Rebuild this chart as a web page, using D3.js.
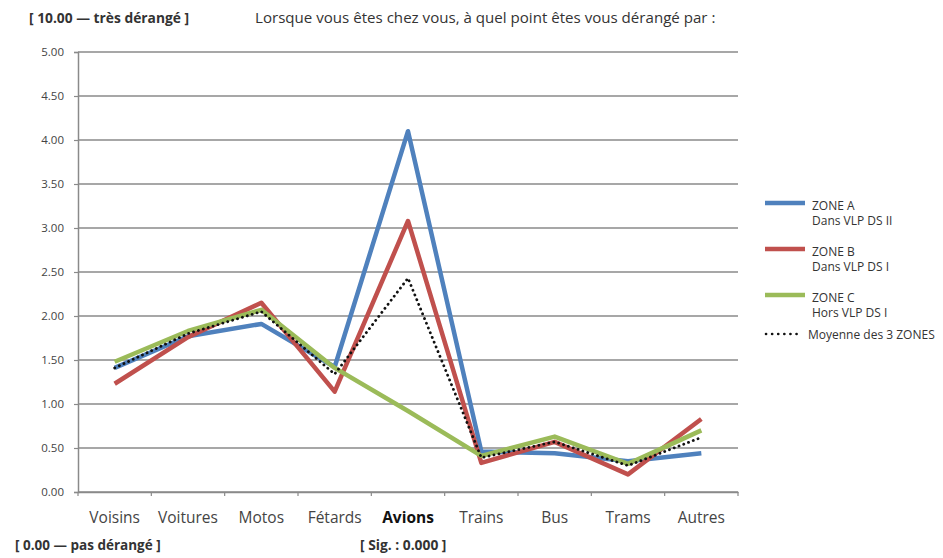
<!DOCTYPE html>
<html><head><meta charset="utf-8">
<script src="https://cdn.jsdelivr.net/npm/d3@7"></script>
<style>
html,body{margin:0;padding:0;background:#fff;}
svg{display:block;font-family:"Open Sans","Noto Sans",sans-serif;}
</style></head>
<body><svg id="c" width="943" height="558"></svg>
<script>
const categories = ["Voisins","Voitures","Motos","Fétards","Avions","Trains","Bus","Trams","Autres"];
const zoneA = [1.41, 1.77, 1.91, 1.42, 4.10, 0.46, 0.44, 0.35, 0.44];
const zoneB = [1.23, 1.76, 2.15, 1.14, 3.08, 0.33, 0.57, 0.20, 0.83];
const zoneC = [1.48, 1.83, 2.07, 1.41, 0.92, 0.41, 0.63, 0.32, 0.70];
const moyenne = [1.41, 1.80, 2.05, 1.34, 2.43, 0.39, 0.57, 0.30, 0.62];
const yTicks = [0, 0.5, 1, 1.5, 2, 2.5, 3, 3.5, 4, 4.5, 5];
const seriesNames = [["ZONE A","Dans VLP DS II"],["ZONE B","Dans VLP DS I"],["ZONE C","Hors VLP DS I"]];
const avgName = "Moyenne des 3 ZONES";
const titleText = "Lorsque vous êtes chez vous, à quel point êtes vous dérangé par :";
const topNote = "[ 10.00 — très dérangé ]";
const bottomNote = "[ 0.00 — pas dérangé ]";
const sigNote = "[ Sig. : 0.000 ]";

const svg = d3.select("#c");
const L = 78, R = 738, T = 52, B = 492;
const x = d3.scaleBand().domain(categories).range([L, R]);
const y = d3.scaleLinear().domain([0, 5]).range([B, T]);

// gridlines
svg.append("g").selectAll("line").data(yTicks).join("line")
  .attr("x1", L).attr("x2", R).attr("y1", d => y(d)).attr("y2", d => y(d))
  .attr("stroke", "#8a8a8a").attr("stroke-width", 1.5);

// y axis
const yAxis = d3.axisLeft(y).tickValues(yTicks).tickFormat(d3.format(".2f")).tickSize(4).tickPadding(10);
const gy = svg.append("g").attr("transform", `translate(${L},0)`).call(yAxis);
gy.select(".domain").attr("stroke", "#8a8a8a").attr("stroke-width", 1.5);
gy.selectAll(".tick line").attr("stroke", "#8a8a8a").attr("stroke-width", 1.2);
gy.selectAll("text").attr("fill", "#444").style("font-size", "11.5px").style("font-family", "'Open Sans',sans-serif");

// x axis
const xAxis = d3.axisBottom(x).tickSize(0).tickPadding(20);
const gx = svg.append("g").attr("transform", `translate(0,${B})`).call(xAxis);
gx.select(".domain").attr("stroke", "#8a8a8a").attr("stroke-width", 1.5);
gx.selectAll("text").style("font-size", "15.5px")
  .style("font-family", "'Open Sans',sans-serif")
  .style("font-weight", d => d === "Avions" ? "bold" : "normal")
  .attr("fill", d => d === "Avions" ? "#111" : "#444");
// category boundary ticks
const bounds = categories.map(c => x(c)).concat([R]);
gx.append("g").selectAll("line").data(bounds).join("line")
  .attr("x1", d => d).attr("x2", d => d).attr("y1", 0).attr("y2", 4)
  .attr("stroke", "#8a8a8a").attr("stroke-width", 1.2);

const line = d3.line().x((d, i) => x(categories[i]) + x.bandwidth() / 2).y(d => y(d));
const colors = ["#4F81BD", "#C0504D", "#9BBB59"];
[zoneA, zoneB, zoneC].forEach((s, i) => {
  svg.append("path").datum(s).attr("d", line).attr("fill", "none").attr("stroke", colors[i])
    .attr("stroke-width", 4.5).attr("stroke-linejoin", "round");
});
svg.append("path").datum(moyenne).attr("d", line).attr("fill", "none").attr("stroke", "#111")
  .attr("stroke-width", 2.8).attr("stroke-dasharray", "0.1 5").attr("stroke-linecap", "round");

// legend
const lg = svg.append("g");
const legY = [203, 249, 295];
seriesNames.forEach((n, i) => {
  lg.append("line").attr("x1", 765).attr("x2", 805).attr("y1", legY[i]).attr("y2", legY[i])
    .attr("stroke", colors[i]).attr("stroke-width", 4.5);
  lg.append("text").attr("x", 812).attr("y", legY[i] + 6.5).text(n[0])
    .style("font-size", "12px").attr("fill", "#333");
  lg.append("text").attr("x", 812).attr("y", legY[i] + 22).text(n[1])
    .style("font-size", "12px").attr("fill", "#333");
});
lg.append("line").attr("x1", 766).attr("x2", 802).attr("y1", 334).attr("y2", 334)
  .attr("stroke", "#111").attr("stroke-width", 2.6).attr("stroke-dasharray", "0.1 6").attr("stroke-linecap", "round");
lg.append("text").attr("x", 808).attr("y", 338.5).text(avgName).style("font-size", "12px").attr("fill", "#333");

// texts
svg.append("text").attr("x", 29).attr("y", 23).text(topNote)
  .style("font-size", "13.8px").style("font-weight", "bold").attr("fill", "#333");
svg.append("text").attr("x", 255).attr("y", 23).text(titleText)
  .style("font-size", "15.1px").attr("fill", "#333");
svg.append("text").attr("x", 15).attr("y", 550).text(bottomNote)
  .style("font-size", "13.5px").style("font-weight", "bold").attr("fill", "#333");
svg.append("text").attr("x", 360).attr("y", 550).text(sigNote)
  .style("font-size", "13.8px").style("font-weight", "bold").attr("fill", "#333");
</script>
</body></html>
